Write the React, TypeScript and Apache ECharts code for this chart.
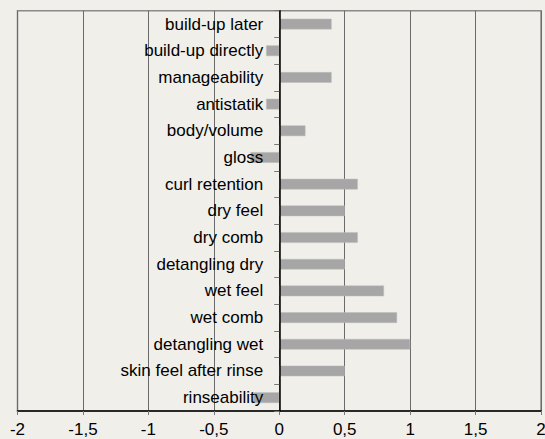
import React, { useEffect, useRef } from "react";
import * as echarts from "echarts";

const categories = [
  "build-up later",
  "build-up directly",
  "manageability",
  "antistatik",
  "body/volume",
  "gloss",
  "curl retention",
  "dry feel",
  "dry comb",
  "detangling dry",
  "wet feel",
  "wet comb",
  "detangling wet",
  "skin feel after rinse",
  "rinseability",
];

const values = [0.4, -0.1, 0.4, -0.1, 0.2, -0.22, 0.6, 0.5, 0.6, 0.5, 0.8, 0.9, 1.0, 0.5, -0.2];

const xMin = -2;
const xMax = 2;
const xStep = 0.5;

export default function App() {
  const ref = useRef<HTMLDivElement>(null);
  useEffect(() => {
    if (!ref.current) return;
    const chart = echarts.init(ref.current, null, { renderer: "svg" });
    const font = "'Liberation Sans', Arial, sans-serif";
    const gridLeft = 17.5;
    const gridRight = 4;
    const zeroX = gridLeft + (545 - gridLeft - gridRight) / 2;
    chart.setOption({
      animation: false,
      backgroundColor: "#f0efea",
      textStyle: { fontFamily: font },
      grid: {
        left: gridLeft,
        right: gridRight,
        top: 10.7,
        bottom: 28,
        show: true,
        borderColor: "#8a8a8a",
        borderWidth: 1.5,
        backgroundColor: "transparent",
        containLabel: false,
        outerBoundsMode: "none",
      },
      xAxis: {
        type: "value",
        min: xMin,
        max: xMax,
        interval: xStep,
        axisLine: { show: true, onZero: false, lineStyle: { color: "#000", width: 1.5 } },
        axisTick: { show: true, length: 4, lineStyle: { color: "#777" } },
        splitLine: { show: true, lineStyle: { color: "#6a6a6a", width: 1 } },
        axisLabel: {
          color: "#000",
          fontSize: 17,
          fontFamily: font,
          margin: 10,
          hideOverlap: false,
          showMinLabel: true,
          showMaxLabel: true,
          formatter: (v: number) => String(v).replace(".", ","),
        },
      },
      yAxis: {
        type: "category",
        data: categories,
        inverse: true,
        z: 5,
        axisLine: { show: true, onZero: true, lineStyle: { color: "#000", width: 1.5 } },
        axisTick: { show: true, length: 5, lineStyle: { color: "#777" } },
        splitLine: { show: false },
        axisLabel: {
          color: "#000",
          fontSize: 17,
          fontFamily: font,
          margin: -(zeroX - gridLeft - 16),
          interval: 0,
        },
      },
      series: [
        {
          type: "bar",
          data: values,
          barWidth: "40%",
          itemStyle: { color: "#a6a6a6", borderColor: "#bdbdbd", borderWidth: 0.5 },
        },
      ],
    });
    return () => chart.dispose();
  }, []);
  return (
    <div
      ref={ref}
      style={{ position: "fixed", left: 0, top: 0, width: 545, height: 439 }}
    />
  );
}
